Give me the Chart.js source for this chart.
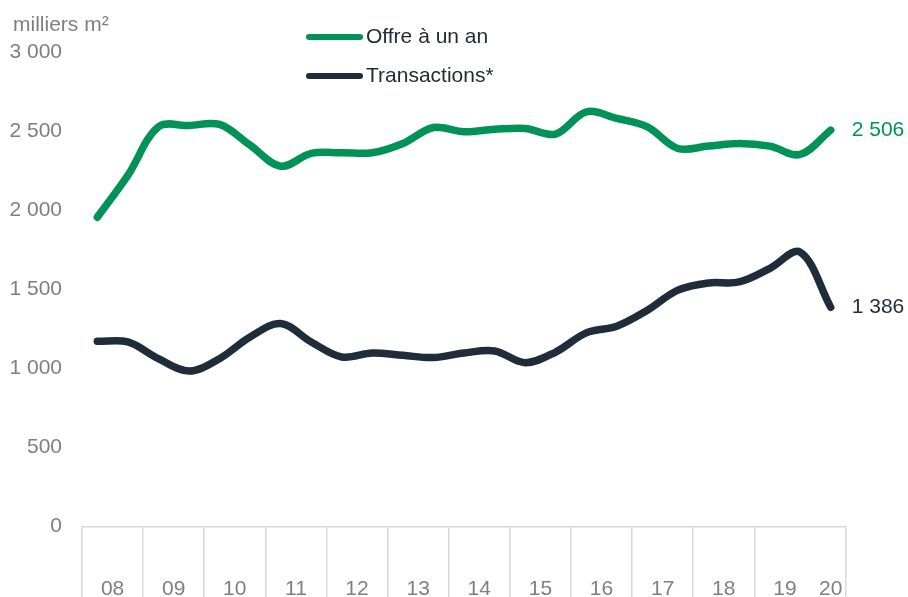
<!DOCTYPE html>
<html>
<head>
<meta charset="utf-8">
<script src="https://cdn.jsdelivr.net/npm/chart.js@4.4.1/dist/chart.umd.min.js"></script>
<style>
    html, body { margin: 0; padding: 0; background: #fff; }
    #wrap { width: 908px; height: 597px; position: relative; }
</style>
</head>
<body>
<div id="wrap"><canvas id="chart"></canvas></div>
<script>
// années (axe X) - un point par semestre, 2020 = 1er semestre seulement
const years = ['08', '09', '10', '11', '12', '13', '14', '15', '16', '17', '18', '19', '20'];

// milliers m², par semestre
const offre = [1955, 2220, 2527, 2535, 2542, 2411, 2278, 2359, 2363, 2363, 2422, 2523, 2496,
               2511, 2517, 2481, 2622, 2580, 2527, 2390, 2405, 2422, 2405, 2352, 2506];
const transactions = [1171, 1167, 1061, 983, 1061, 1198, 1283, 1167, 1072, 1097, 1082, 1068, 1097,
                      1110, 1036, 1103, 1224, 1266, 1367, 1494, 1540, 1546, 1631, 1735, 1386];

const yTicks = [0, 500, 1000, 1500, 2000, 2500, 3000];
const unitLabel = 'milliers m²';
const seriesNames = ['Offre à un an', 'Transactions*'];

const GREEN = '#009257';
const DARK = '#1f2c3a';
const GREY = '#7f7f7f';
const FONT = '"Liberation Sans", Arial, sans-serif';

function fmt(v) {
    return String(v).replace(/\B(?=(\d{3})+(?!\d))/g, ' ');
}

// x en semestres : année i couvre [2i, 2i+2], 2020 ne couvre qu'un semestre
const nPeriods = offre.length;
const toPoints = arr => arr.map((v, i) => ({ x: i + 0.5, y: v }));

const boundaries = [];
for (let i = 0; i < years.length - 1; i++) boundaries.push(i * 2);
boundaries.push(nPeriods);
const labelPos = years.map((y, i) => i < years.length - 1 ? i * 2 + 1 : (i * 2 + nPeriods) / 2);

const overlay = {
    id: 'overlay',
    afterDatasetsDraw(chart) {
        const ctx = chart.ctx;
        ctx.save();

        // unité
        ctx.font = '21px ' + FONT;
        ctx.fillStyle = GREY;
        ctx.textBaseline = 'alphabetic';
        ctx.textAlign = 'left';
        ctx.fillText(unitLabel, 13, 31);

        chart.data.datasets.forEach((ds, i) => {
            // légende
            const ly = 37 + i * 39;
            ctx.strokeStyle = ds.borderColor;
            ctx.lineWidth = 6;
            ctx.lineCap = 'round';
            ctx.beginPath();
            ctx.moveTo(309, ly);
            ctx.lineTo(360, ly);
            ctx.stroke();
            ctx.font = '21px ' + FONT;
            ctx.fillStyle = '#222c36';
            ctx.textBaseline = 'middle';
            ctx.fillText(ds.label, 366, ly);

            // valeur finale
            const meta = chart.getDatasetMeta(i);
            const pt = meta.data[meta.data.length - 1];
            const last = ds.data[ds.data.length - 1].y;
            ctx.font = '21px ' + FONT;
            ctx.fillStyle = ds.borderColor;
            ctx.fillText(fmt(last), pt.x + 21, pt.y);
        });
        ctx.restore();
    }
};

new Chart(document.getElementById('chart'), {
    type: 'line',
    data: {
        datasets: [
            { label: seriesNames[0], data: toPoints(offre), borderColor: GREEN },
            { label: seriesNames[1], data: toPoints(transactions), borderColor: DARK }
        ]
    },
    options: {
        responsive: true,
        maintainAspectRatio: false,
        animation: false,
        layout: { padding: { left: 0, right: 62, top: 52, bottom: 0 } },
        elements: {
            line: { borderWidth: 7.5, tension: 0.35, borderCapStyle: 'round', borderJoinStyle: 'round', fill: false },
            point: { radius: 0, hoverRadius: 0 }
        },
        plugins: {
            legend: { display: false },
            tooltip: { enabled: false }
        },
        scales: {
            x: {
                type: 'linear',
                min: 0,
                max: nPeriods,
                afterBuildTicks: s => {
                    const vals = boundaries.concat(labelPos).sort((a, b) => a - b);
                    s.ticks = vals.map(v => ({ value: v }));
                },
                afterFit: s => { s.height = 70.5; },
                grid: {
                    drawOnChartArea: false,
                    drawTicks: true,
                    tickLength: 70.5,
                    lineWidth: 1.5,
                    color: c => boundaries.includes(c.tick.value) ? '#d9d9d9' : 'rgba(0,0,0,0)'
                },
                border: { display: true, color: '#d9d9d9', width: 1.5 },
                ticks: {
                    autoSkip: false,
                    maxRotation: 0,
                    padding: -20,
                    color: GREY,
                    font: { family: FONT, size: 21 },
                    callback: v => {
                        const idx = labelPos.indexOf(v);
                        return idx >= 0 ? years[idx] : '';
                    }
                }
            },
            y: {
                min: 0,
                max: 3000,
                afterBuildTicks: s => { s.ticks = yTicks.map(v => ({ value: v })); },
                afterFit: s => { s.width = 82; },
                grid: { display: false },
                border: { display: false },
                ticks: {
                    padding: 12,
                    color: GREY,
                    font: { family: FONT, size: 21 },
                    callback: v => fmt(v)
                }
            }
        }
    },
    plugins: [overlay]
});
</script>
</body>
</html>
